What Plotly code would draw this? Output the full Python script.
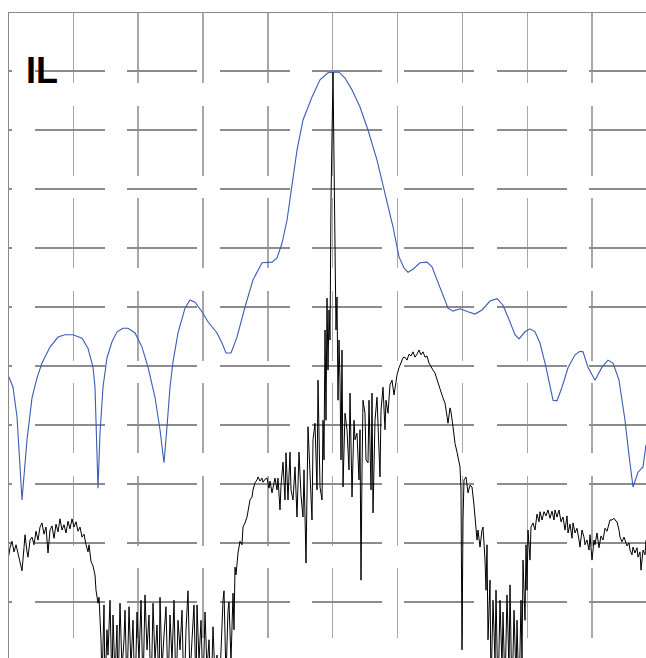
import plotly.graph_objects as go

# ---- IL trace (blue): trace bin vs level (dB, 10 dB/div) ----
il_bins = [0, 5, 9, 14, 19, 24, 29, 34, 42, 50,
           57, 65, 74, 80, 85, 87, 90, 92, 95, 99,
           104, 109, 115, 120, 127, 134, 140, 147, 152, 156,
           159, 162, 165, 170, 177, 182, 187, 194, 200, 209,
           214, 218, 223, 229, 237, 245, 254, 264, 269, 274,
           279, 285, 289, 295, 304, 312, 320, 324, 331, 337,
           344, 352, 360, 369, 377, 385, 391, 396, 400, 405,
           412, 419, 424, 430, 435, 440, 445, 452, 460, 467,
           474, 482, 489, 495, 500, 507, 511, 517, 522, 527,
           532, 538, 545, 549, 554, 560, 567, 572, 575, 580,
           587, 594, 600, 605, 611, 617, 621, 625, 630, 635,
           638]
il_db = [-51.5, -53.6, -58.6, -72.7, -62.5, -55.4, -52.0, -49.5, -46.8, -45.1,
         -44.7, -44.7, -45.3, -47.0, -50.2, -53.6, -70.7, -61.4, -53.6, -48.6,
         -45.9, -44.2, -43.6, -43.6, -44.4, -46.8, -50.2, -55.3, -60.8, -66.4,
         -60.3, -53.6, -49.3, -44.4, -40.2, -38.8, -39.2, -40.8, -42.5, -44.4,
         -46.1, -47.8, -47.8, -45.1, -40.0, -35.4, -32.5, -32.4, -31.7, -29.2,
         -25.3, -18.5, -13.4, -8.3, -4.4, -1.5, -0.3, -0.2, -0.2, -1.2,
         -3.2, -6.1, -10.0, -15.1, -20.7, -26.4, -31.5, -33.4, -34.1, -33.6,
         -32.5, -32.4, -33.2, -35.8, -38.3, -40.2, -40.7, -40.3, -40.8, -41.2,
         -40.5, -39.0, -38.6, -39.7, -41.7, -44.7, -45.4, -44.2, -43.7, -44.2,
         -46.1, -50.2, -55.8, -55.9, -53.6, -50.3, -48.1, -47.5, -47.6, -50.2,
         -52.4, -50.2, -49.0, -49.5, -52.4, -59.2, -65.1, -70.5, -68.0, -67.1,
         -63.4]

# ---- second trace (black), in five spans ----
blk_bins_a = [0, 2, 4, 6, 8, 10, 12, 14, 16, 17, 19, 20, 22, 24, 26, 28, 30, 32, 34, 36,
              38, 40, 42, 44, 46, 48, 50, 52, 54, 56, 58, 60, 62, 64, 66, 68, 70, 72, 74, 76,
              78, 80, 81, 83, 85, 87, 88, 90, 91, 92]
blk_db_a = [-82.9, -80.8, -79.7, -81.5, -80.3, -81.7, -82.9, -84.7, -80.8, -78.6,
            -81.5, -82.4, -79.5, -79.0, -80.3, -78.0, -79.5, -77.3, -76.6, -78.5,
            -77.3, -81.7, -77.8, -77.1, -79.2, -76.8, -78.1, -75.9, -77.8, -76.9,
            -78.3, -76.3, -77.6, -75.9, -77.3, -76.4, -78.0, -77.3, -79.0, -78.5,
            -80.3, -81.5, -80.3, -83.1, -83.9, -85.4, -88.0, -90.2, -89.2, -92.2]

blk_bins_b = [93, 94, 96, 97, 99, 100, 102, 104, 105, 107,
              109, 110, 112, 114, 116, 117, 119, 121, 123, 125,
              127, 129, 131, 133, 135, 137, 139, 141, 143, 145,
              147, 149, 151, 152, 154, 156, 158, 160, 162, 164,
              166, 168, 170, 172, 174, 176, 178, 180, 182, 184,
              186, 188, 189, 191, 193, 195, 197, 199, 201, 203,
              205, 207, 209, 211, 213, 215, 216, 218, 220, 221,
              223, 225, 226, 227]
blk_db_b = [-96.4, -104, -90.5, -105, -94.7, -99.0, -89.7, -105, -92.2, -103,
            -93.9, -106, -90.2, -101.5, -96.4, -91.4, -105, -90.8, -101, -93.1,
            -107, -91.7, -100, -89.7, -105, -88.8, -98.1, -92.2, -107, -90.2,
            -100, -93.9, -105, -89.2, -101.5, -95.6, -90.8, -105, -92.2, -100,
            -89.7, -106, -93.1, -98.1, -91.4, -107, -94.7, -88.1, -103, -96.4,
            -90.5, -105, -90.5, -100, -93.1, -105, -91.7, -101.5, -96.4, -107,
            -94.2, -103, -99.0, -107, -96.4, -89.7, -88.1, -103, -91.4, -90.0,
            -100, -88.5, -94.7, -84.1]

blk_bins_c = [228, 230, 232, 234, 235, 237, 239, 241, 242, 244,
              245, 247, 249, 250, 252, 254, 255, 257, 259, 261,
              262, 264, 266, 267, 269, 270, 272, 273, 275, 277,
              278, 280, 282, 283, 285, 287, 289, 291, 293, 295,
              296, 298, 300, 302, 304, 305, 307, 309, 310, 312,
              314, 315, 316, 317, 318, 319, 320, 321, 322, 323,
              324, 325, 326, 327, 328, 329, 330, 331, 332, 333,
              334, 335, 337, 339, 341, 342, 344, 346, 347, 349,
              351, 352, 353, 354, 355, 357, 358, 360, 361, 363,
              364, 365, 367, 369, 371, 372, 373, 375, 377, 378,
              380, 382, 384, 386, 388, 389, 391]
blk_db_c = [-85.4, -81.7, -79.7, -80.3, -77.3, -76.6, -75.6, -73.9, -72.7, -72.2,
            -71.0, -69.8, -69.3, -68.8, -69.5, -69.0, -69.7, -69.2, -69.0, -70.7,
            -69.5, -71.5, -69.8, -69.0, -71.0, -69.0, -74.4, -70.2, -66.3, -72.7,
            -64.7, -72.7, -64.6, -71.0, -72.7, -67.1, -75.6, -64.6, -71.9, -75.6,
            -67.6, -83.4, -60.3, -67.6, -76.1, -62.5, -59.7, -71.0, -52.4, -70.5,
            -72.7, -59.2, -65.9, -43.9, -59.2, -38.5, -50.7, -40.5, -45.6, -21.9,
            -4.9, -0.2, -15.1, -32.0, -43.9, -38.3, -55.8, -45.6, -52.4, -65.9,
            -47.3, -70.5, -58.0, -60.8, -67.6, -54.6, -72.2, -59.2, -62.5, -61.4,
            -69.3, -60.8, -86.3, -67.6, -55.8, -58.0, -65.9, -66.4, -55.8, -71.0,
            -54.6, -74.9, -59.2, -55.3, -65.9, -68.8, -57.5, -53.6, -60.8, -55.8,
            -58.0, -53.2, -52.4, -54.9, -52.7, -51.5, -50.3]

blk_bins_d = [393, 395, 397, 399, 401, 403, 405, 407, 409, 411,
              413, 415, 417, 419, 421, 423, 425, 427, 429, 431,
              433, 435, 437, 439, 440, 442, 443, 445, 447, 449,
              450, 452, 453, 454, 455, 456, 458, 460, 462, 464,
              466, 467, 469, 470, 472, 474, 475, 477, 478, 479,
              480, 482, 483, 485, 487, 488, 490, 492, 494, 495,
              497, 499, 501, 502, 504, 506, 508, 509, 511, 513,
              514, 515, 517, 518, 519, 520, 522, 523, 525, 527]
blk_db_d = [-49.3, -48.6, -48.5, -49.0, -48.0, -48.3, -47.6, -48.5, -48.0, -47.3,
            -48.1, -47.6, -48.5, -48.3, -49.5, -50.2, -50.7, -51.2, -52.4, -53.4,
            -54.4, -55.4, -56.3, -58.5, -59.7, -57.1, -57.8, -60.3, -63.1, -64.6,
            -65.4, -67.1, -71.0, -98.1, -76.1, -69.3, -68.8, -71.5, -70.2, -70.5,
            -73.6, -75.6, -79.5, -77.8, -80.7, -77.8, -77.3, -82.9, -88.0, -80.3,
            -96.4, -86.3, -105, -89.7, -100, -88.0, -107, -89.7, -101, -91.7,
            -105, -88.8, -101.5, -87.1, -107, -91.4, -103, -93.1, -107, -89.7,
            -100, -82.9, -93.1, -80.3, -88.0, -77.8, -82.9, -77.3, -76.6, -77.8]

blk_bins_e = [529, 531, 532, 534, 536, 538, 540, 542, 544, 546,
              547, 549, 551, 553, 555, 557, 559, 560, 562, 564,
              565, 567, 569, 571, 572, 574, 576, 577, 579, 581,
              582, 584, 586, 587, 589, 591, 593, 595, 597, 599,
              600, 602, 604, 606, 608, 609, 611, 612, 614, 616,
              617, 619, 621, 622, 624, 625, 627, 629, 630, 632,
              633, 635, 637, 638]
blk_db_e = [-75.1, -76.4, -74.7, -76.1, -74.7, -75.4, -74.4, -75.8, -74.6, -76.1,
            -74.4, -75.6, -74.4, -76.4, -75.6, -77.8, -75.4, -78.3, -76.8, -79.2,
            -76.6, -78.3, -77.5, -79.5, -80.7, -77.8, -79.0, -80.3, -79.5, -81.2,
            -78.6, -82.9, -79.5, -80.3, -78.3, -80.8, -78.8, -79.5, -77.5, -78.0,
            -77.3, -76.1, -76.1, -75.8, -76.3, -76.4, -77.8, -79.0, -79.8, -79.0,
            -79.5, -80.5, -80.0, -81.2, -82.0, -80.7, -81.7, -80.8, -82.4, -81.5,
            -84.6, -81.2, -82.0, -79.5]

label_text = "IL"

blk_bins = blk_bins_a + blk_bins_b + blk_bins_c + blk_bins_d + blk_bins_e
blk_db = blk_db_a + blk_db_b + blk_db_c + blk_db_d + blk_db_e

fig = go.Figure()
fig.add_trace(go.Scatter(x=il_bins, y=il_db, mode="lines",
                         line=dict(color="#3a5cb4", width=1.1),
                         hoverinfo="skip"))
fig.add_trace(go.Scatter(x=blk_bins, y=blk_db, mode="lines",
                         line=dict(color="#000000", width=1),
                         hoverinfo="skip"))

hdash = "3px,23px," + ",".join(["70px,22.3px"] * 8)

fig.update_layout(
    width=646, height=658,
    margin=dict(l=9, r=0, t=13, b=0, pad=0),
    paper_bgcolor="white", plot_bgcolor="white",
    showlegend=False,
    xaxis=dict(range=[1, 638], side="top", showline=True, linecolor="#8a8a8a",
               linewidth=1.5, showgrid=True, gridcolor="#a8a8a8", gridwidth=1.5,
               griddash="70px,22.5px", tickmode="linear", tick0=0.45, dtick=64.85,
               showticklabels=False, ticks="", zeroline=False, fixedrange=True),
    yaxis=dict(range=[-99.49, 9.83], showline=True, linecolor="#8a8a8a",
               linewidth=1.5, showgrid=True, gridcolor="#8c8c8c", gridwidth=2,
               griddash=hdash, tickmode="linear", tick0=0, dtick=10,
               showticklabels=False, ticks="", zeroline=False, fixedrange=True),
    annotations=[dict(text="<b>" + label_text + "</b>", xref="paper", yref="paper",
                      x=0.024, y=0.9453, xanchor="left", yanchor="top",
                      showarrow=False,
                      font=dict(family="Liberation Sans, Arial, sans-serif",
                                size=36, color="black"))],
)

# remove the default 8 px page margin so the figure fills the window exactly
fig.write_html("out.html",
               config={"displayModeBar": False, "staticPlot": True},
               post_script="document.body.style.margin='0';"
                           "document.body.style.overflow='hidden';")
